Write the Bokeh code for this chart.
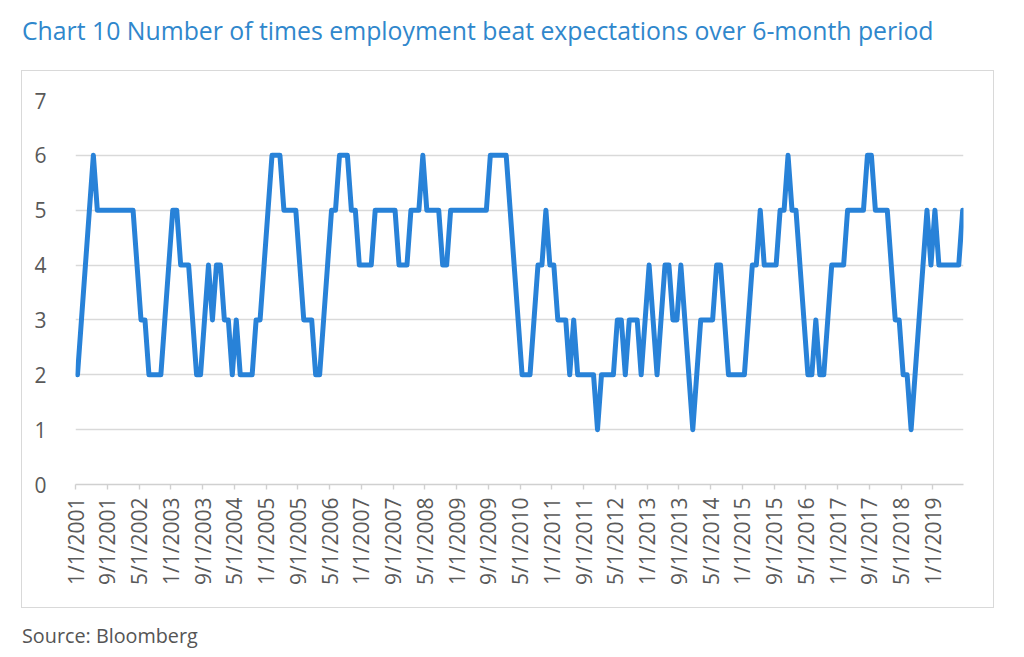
import math
from bokeh.plotting import figure
from bokeh.models import FixedTicker, Range1d, ColumnDataSource, Div
from bokeh.layouts import column
from bokeh.embed import file_html
from bokeh.resources import INLINE

# Monthly values, Jan 2001 .. Aug 2019
beats = [
    2, 3, 4, 5, 6, 5, 5, 5, 5, 5, 5, 5,   # 2001
    5, 5, 5, 4, 3, 3, 2, 2, 2, 2, 3, 4,   # 2002
    5, 5, 4, 4, 4, 3, 2, 2, 3, 4, 3, 4,   # 2003
    4, 3, 3, 2, 3, 2, 2, 2, 2, 3, 3, 4,   # 2004
    5, 6, 6, 6, 5, 5, 5, 5, 4, 3, 3, 3,   # 2005
    2, 2, 3, 4, 5, 5, 6, 6, 6, 5, 5, 4,   # 2006
    4, 4, 4, 5, 5, 5, 5, 5, 5, 4, 4, 4,   # 2007
    5, 5, 5, 6, 5, 5, 5, 5, 4, 4, 5, 5,   # 2008
    5, 5, 5, 5, 5, 5, 5, 5, 6, 6, 6, 6,   # 2009
    6, 5, 4, 3, 2, 2, 2, 3, 4, 4, 5, 4,   # 2010
    4, 3, 3, 3, 2, 3, 2, 2, 2, 2, 2, 1,   # 2011
    2, 2, 2, 2, 3, 3, 2, 3, 3, 3, 2, 3,   # 2012
    4, 3, 2, 3, 4, 4, 3, 3, 4, 3, 2, 1,   # 2013
    2, 3, 3, 3, 3, 4, 4, 3, 2, 2, 2, 2,   # 2014
    2, 3, 4, 4, 5, 4, 4, 4, 4, 5, 5, 6,   # 2015
    5, 5, 4, 3, 2, 2, 3, 2, 2, 3, 4, 4,   # 2016
    4, 4, 5, 5, 5, 5, 5, 6, 6, 5, 5, 5,   # 2017
    5, 4, 3, 3, 2, 2, 1, 2, 3, 4, 5, 4,   # 2018
    5, 4, 4, 4, 4, 4, 4, 5,               # 2019
]

tick_labels = [
    "1/1/2001", "9/1/2001", "5/1/2002", "1/1/2003", "9/1/2003", "5/1/2004",
    "1/1/2005", "9/1/2005", "5/1/2006", "1/1/2007", "9/1/2007", "5/1/2008",
    "1/1/2009", "9/1/2009", "5/1/2010", "1/1/2011", "9/1/2011", "5/1/2012",
    "1/1/2013", "9/1/2013", "5/1/2014", "1/1/2015", "9/1/2015", "5/1/2016",
    "1/1/2017", "9/1/2017", "5/1/2018", "1/1/2019",
]

y_ticks = [0, 1, 2, 3, 4, 5, 6, 7]

title_text = "Chart 10 Number of times employment beat expectations over 6-month period"
source_text = "Source: Bloomberg"

x = list(range(len(beats)))
src = ColumnDataSource(dict(x=x, y=beats))

tick_pos = []
overrides = {}
for lab in tick_labels:
    m, d, yr = lab.split("/")
    idx = (int(yr) - 2001) * 12 + int(m) - 1
    pos = idx - 0.5
    tick_pos.append(pos)
    overrides[pos] = lab

p = figure(width=971, height=536, output_backend="svg", toolbar_location=None,
           x_range=Range1d(-0.5, 223.2), y_range=Range1d(0, 7),
           min_border_left=53, min_border_right=30,
           min_border_top=29, min_border_bottom=123,
           margin=(0, 0, 0, 22),
           styles={"outline": "1.5px solid #d9d9d9"})
p.outline_line_color = None
p.background_fill_color = "white"
p.border_fill_color = "white"

p.line("x", "y", source=src, line_width=5, line_color="#2882d8",
       line_join="round", line_cap="round")

p.xgrid.visible = False
p.ygrid.grid_line_color = "#d9d9d9"
p.ygrid.grid_line_width = 1.4
p.ygrid.ticker = FixedTicker(ticks=y_ticks)

p.yaxis.ticker = FixedTicker(ticks=y_ticks)
p.yaxis.axis_line_color = None
p.yaxis.major_tick_line_color = None
p.yaxis.minor_tick_line_color = None
p.yaxis.major_label_standoff = 23
p.yaxis.major_label_text_font = "Open Sans"
p.yaxis.major_label_text_font_size = "21px"
p.yaxis.major_label_text_color = "#595959"

p.xaxis.ticker = FixedTicker(ticks=tick_pos)
p.xaxis.major_label_overrides = overrides
p.xaxis.major_label_orientation = math.pi / 2
p.xaxis.axis_line_color = "#d0d0d0"
p.xaxis.axis_line_width = 1.4
p.xaxis.major_tick_line_color = "#d0d0d0"
p.xaxis.major_tick_line_width = 1.4
p.xaxis.major_tick_out = 5
p.xaxis.major_tick_in = 0
p.xaxis.minor_tick_line_color = None
p.xaxis.major_label_standoff = 8
p.xaxis.major_label_text_font = "Open Sans"
p.xaxis.major_label_text_font_size = "21px"
p.xaxis.major_label_text_color = "#595959"

title_div = Div(
    text=f'<div style="font-family:\'Open Sans\'; font-size:24.8px; line-height:1; '
         f'color:#2f87cc; padding-top:18px; white-space:nowrap;">{title_text}</div>',
    width=990, height=71, margin=(0, 0, 0, 22))

source_div = Div(
    text=f'<div style="font-family:\'Open Sans\'; font-size:19.8px; line-height:1; '
         f'color:#555555; padding-top:19px; white-space:nowrap;">{source_text}</div>',
    width=600, height=48, margin=(0, 0, 0, 22))

layout = column(title_div, p, source_div, spacing=0)

open("out.html", "w").write(file_html(layout, INLINE))
